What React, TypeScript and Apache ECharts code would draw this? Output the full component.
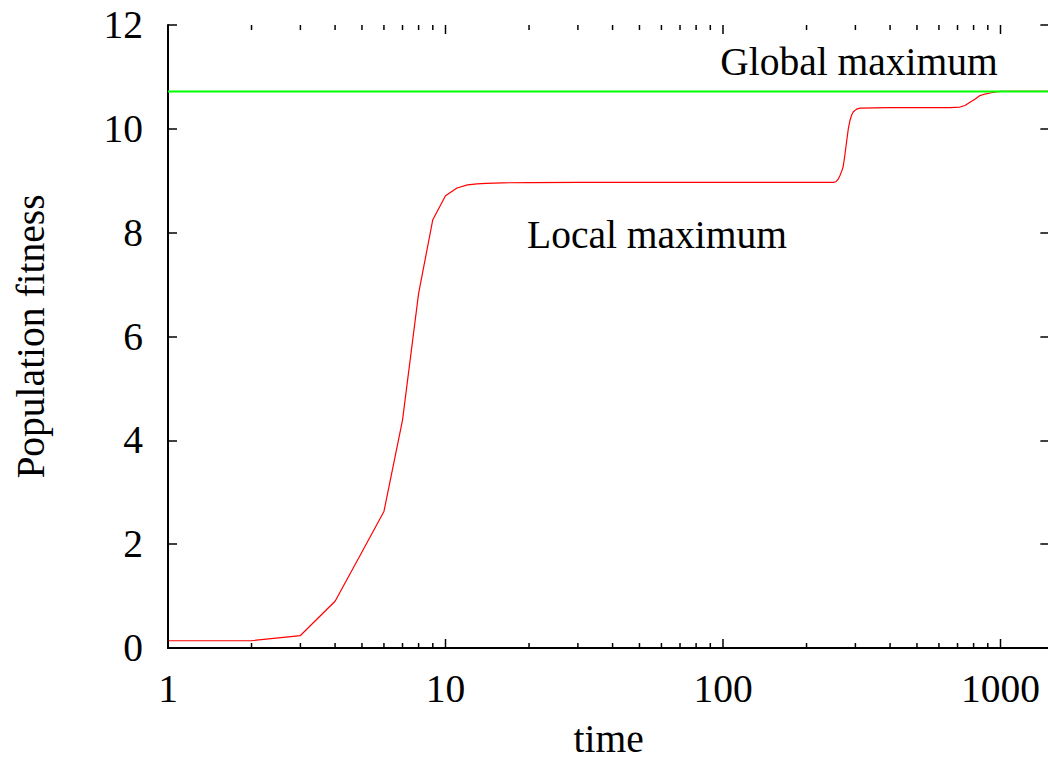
import React, { useEffect, useRef } from "react";
import * as echarts from "echarts";

// ---- data ----
const generations = [
  1, 2, 3, 4, 5, 6, 7, 8, 9, 10, 11, 12, 13, 14, 16, 20, 30, 100, 200, 250,
  255, 260, 264, 268, 271, 275, 279, 283, 287, 291, 295, 303, 312, 400, 600,
  658, 714, 745, 776, 809, 843, 879, 916, 960, 1000, 1500,
];
const fitness = [
  0.14, 0.14, 0.24, 0.9, 1.85, 2.63, 4.39, 6.83, 8.25, 8.71, 8.86, 8.92, 8.94,
  8.95, 8.96, 8.965, 8.97, 8.97, 8.97, 8.97, 8.98, 9.03, 9.1, 9.19, 9.27, 9.5,
  9.76, 10.01, 10.17, 10.27, 10.33, 10.38, 10.4, 10.41, 10.41, 10.41, 10.42,
  10.45, 10.51, 10.57, 10.64, 10.67, 10.69, 10.71, 10.72, 10.72,
];
const globalMaxX = [1, 1500];
const globalMaxY = [10.72, 10.72];

const xMin = 1;
const xMax = 1500;
const xTickValues = [1, 10, 100, 1000];
const xTickLabels = ["1", "10", "100", "1000"];
const xMinorTicks = [
  2, 3, 4, 5, 6, 7, 8, 9, 20, 30, 40, 50, 60, 70, 80, 90, 200, 300, 400, 500,
  600, 700, 800, 900,
];
const yMin = 0;
const yMax = 12;
const yInterval = 2;

const xTitle = "time";
const yTitle = "Population fitness";
const globalLabel = "Global maximum";
const localLabel = "Local maximum";

const FONT = "'Liberation Serif', 'Times New Roman', Times, serif";
const FS = 39.5;

export default function App() {
  const ref = useRef<HTMLDivElement>(null);

  useEffect(() => {
    if (!ref.current) return;
    const chart = echarts.init(ref.current, null, { renderer: "svg" });

    const isMajor = (v: number) =>
      xTickValues.some((t) => Math.abs(v - t) / t < 1e-6);
    const labelFmt = (v: number) => {
      for (let i = 0; i < xTickValues.length; i++) {
        if (Math.abs(v - xTickValues[i]) / xTickValues[i] < 1e-6) return xTickLabels[i];
      }
      return "";
    };

    const gridLeft = 168;
    const gridTop = 25;
    const gridBottom = 114;
    const decade = 277.5;
    const gridWidth = decade * Math.log10(xMax / xMin);
    const tickValues = xTickValues.concat(xMinorTicks);

    const option: any = {
      animation: false,
      backgroundColor: "#ffffff",
      textStyle: { fontFamily: FONT },
      grid: {
        left: gridLeft,
        top: gridTop,
        bottom: gridBottom,
        width: gridWidth,
        containLabel: false,
        outerBoundsMode: "none",
      },
      xAxis: [
        {
          type: "log",
          logBase: 10,
          min: xMin,
          max: xMax,
          position: "bottom",
          name: xTitle,
          nameLocation: "middle",
          nameGap: 77,
          nameTextStyle: { fontFamily: FONT, fontSize: FS, color: "#000", lineHeight: 28 },
          axisLine: { show: true, lineStyle: { color: "#000", width: 2 } },
          axisTick: { show: false },
          axisLabel: {
            show: true,
            formatter: labelFmt,
            margin: 21,
            fontFamily: FONT,
            fontSize: FS,
            color: "#000",
            showMaxLabel: false,
          },
          splitLine: { show: false },
          minorTick: { show: false },
        },
        {
          type: "log",
          logBase: 10,
          min: xMin,
          max: xMax,
          position: "top",
          axisLine: { show: true, lineStyle: { color: "#000", width: 2 } },
          axisTick: { show: false },
          axisLabel: { show: false },
          splitLine: { show: false },
        },
      ],
      yAxis: [
        {
          type: "value",
          min: yMin,
          max: yMax,
          interval: yInterval,
          position: "left",
          name: yTitle,
          nameLocation: "middle",
          nameRotate: 90,
          nameGap: 117,
          nameTextStyle: { fontFamily: FONT, fontSize: FS, color: "#000" },
          axisLine: { show: true, lineStyle: { color: "#000", width: 2 } },
          axisTick: { show: true, inside: true, length: 9, lineStyle: { color: "#000", width: 1.5 } },
          axisLabel: { show: true, margin: 25, fontFamily: FONT, fontSize: FS, color: "#000" },
          splitLine: { show: false },
        },
        {
          type: "value",
          min: yMin,
          max: yMax,
          interval: yInterval,
          position: "right",
          axisLine: { show: true, lineStyle: { color: "#000", width: 2 } },
          axisTick: { show: true, inside: true, length: 9, lineStyle: { color: "#000", width: 1.5 } },
          axisLabel: { show: false },
          splitLine: { show: false },
        },
      ],
      series: [
        {
          type: "line",
          name: "fitness",
          xAxisIndex: 0,
          yAxisIndex: 0,
          data: generations.map((g, i) => [g, fitness[i]]),
          showSymbol: false,
          symbol: "none",
          smooth: false,
          lineStyle: { color: "#ff0000", width: 1.2 },
          z: 2,
        },
        {
          type: "line",
          name: "global",
          xAxisIndex: 0,
          yAxisIndex: 0,
          data: globalMaxX.map((g, i) => [g, globalMaxY[i]]),
          showSymbol: false,
          symbol: "none",
          lineStyle: { color: "#00ff00", width: 2 },
          z: 3,
        },
        {
          type: "custom",
          name: "xTicks",
          xAxisIndex: 0,
          yAxisIndex: 0,
          silent: true,
          clip: false,
          data: tickValues.map((v) => [v, yMin]),
          renderItem: (params: any, api: any) => {
            const v = api.value(0);
            const len = isMajor(v) ? 9 : 5;
            const b = api.coord([v, yMin]);
            const t = api.coord([v, yMax]);
            const st = { stroke: "#000", lineWidth: 1.5 };
            return {
              type: "group",
              children: [
                { type: "line", shape: { x1: b[0], y1: b[1], x2: b[0], y2: b[1] - len }, style: st },
                { type: "line", shape: { x1: t[0], y1: t[1], x2: t[0], y2: t[1] + len }, style: st },
              ],
            };
          },
          z: 4,
        },
      ],
      graphic: [
        {
          type: "text",
          x: 859,
          y: 62,
          style: {
            text: globalLabel,
            font: `${FS}px ${FONT}`,
            fill: "#000",
            textAlign: "center",
            textVerticalAlign: "middle",
          },
        },
        {
          type: "text",
          x: 657,
          y: 235,
          style: {
            text: localLabel,
            font: `${FS}px ${FONT}`,
            fill: "#000",
            textAlign: "center",
            textVerticalAlign: "middle",
          },
        },
      ],
    };

    chart.setOption(option);
    return () => chart.dispose();
  }, []);

  return (
    <div
      ref={ref}
      style={{ position: "absolute", left: 0, top: 0, width: 1048, height: 762, overflow: "hidden" }}
    />
  );
}
